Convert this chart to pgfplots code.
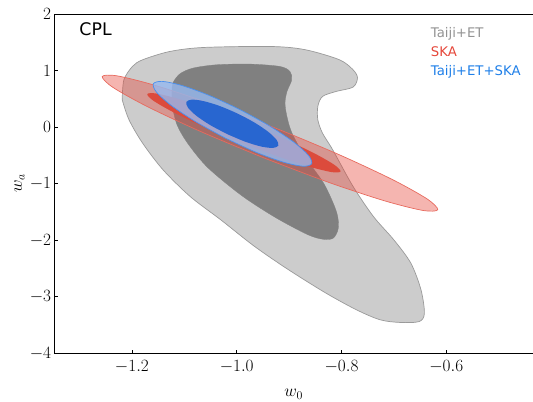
\documentclass[border=0pt]{standalone}
\usepackage{fontspec}
\usepackage{pgfplots}
\pgfplotsset{compat=1.18}
\newfontfamily\dejavu{DejaVu Sans}
\definecolor{gout}{HTML}{CCCCCC}
\definecolor{gedge}{HTML}{9A9A9A}
\definecolor{gin}{HTML}{808080}
\definecolor{skared}{HTML}{E5473A}
\definecolor{skaredge}{HTML}{E86A5E}
\definecolor{skain}{HTML}{DC4B3C}
\definecolor{bout}{HTML}{96B9F0}
\definecolor{bedge}{HTML}{4A90EE}
\definecolor{bin}{HTML}{2866D0}
\definecolor{legblue}{HTML}{1F7FE8}
\definecolor{leggray}{HTML}{939393}
\begin{document}
\begin{tikzpicture}
\begin{axis}[
  scale only axis, width=478.7bp, height=339.3bp,
  xmin=-1.3481, xmax=-0.4345, ymin=-4, ymax=2,
  axis x line=box, axis y line*=left,
  xtick pos=bottom,
  xtick={-1.2,-1.0,-0.8,-0.6}, ytick={-4,-3,-2,-1,0,1,2},
  tick align=inside, major tick length=3.5bp,
  tick style={black, line width=0.8bp},
  axis line style={black, line width=0.9bp},
  xticklabel style={font=\fontsize{18.5}{22}\selectfont, inner sep=0pt, yshift=-6.7bp,
    /pgf/number format/fixed, /pgf/number format/fixed zerofill, /pgf/number format/precision=1},
  yticklabel style={font=\fontsize{18.5}{22}\selectfont, inner sep=0pt, xshift=-3bp},
  xlabel={$w_0$}, ylabel={$w_a$},
  label style={font=\fontsize{18.5}{22}\selectfont, inner sep=0pt},
  xlabel style={at={(axis description cs:0.5,-0.1273)}, anchor=base},
  ylabel style={at={(axis description cs:-0.0675,0.5)}, anchor=base},
]
% Taiji+ET outer (2 sigma)
\addplot[fill=gout, draw=gedge, line width=0.7bp, smooth] coordinates {
(-1.2185,0.483) (-1.2153,0.836) (-1.199,1.072) (-1.1796,1.190) (-1.1277,1.337)
(-1.063,1.408) (-0.9334,1.425) (-0.8685,1.367) (-0.8038,1.190) (-0.7779,1.013)
(-0.7695,0.872) (-0.7779,0.707) (-0.8103,0.630) (-0.8363,0.541) (-0.8452,0.364)
(-0.8452,0.129) (-0.8363,-0.106) (-0.8168,-0.401) (-0.7779,-1.050) (-0.7391,-1.581)
(-0.7002,-1.993) (-0.6677,-2.405) (-0.6483,-2.877) (-0.6418,-3.289) (-0.6515,-3.438)
(-0.6872,-3.455) (-0.7261,-3.408) (-0.7714,-3.231) (-0.8298,-2.935) (-0.9010,-2.523)
(-0.9658,-2.111) (-1.0305,-1.639) (-1.0889,-1.227) (-1.1406,-0.755) (-1.1796,-0.283)
(-1.2055,0.129) (-1.2185,0.483)
} -- cycle;
% Taiji+ET inner (1 sigma)
\addplot[fill=gin, draw=gin, line width=0.3bp, smooth] coordinates {
(-1.1235,0.394) (-1.1235,0.624) (-1.1216,0.783) (-1.1082,0.943) (-1.0834,1.043)
(-1.0382,1.102) (-0.9746,1.114) (-0.9174,1.072) (-0.8983,0.983) (-0.8950,0.836)
(-0.9040,0.630) (-0.9078,0.424) (-0.9040,0.182) (-0.8945,-0.106) (-0.8685,-0.543)
(-0.8334,-1.003) (-0.8095,-1.498) (-0.8061,-1.786) (-0.8156,-1.963) (-0.8347,-1.984)
(-0.8639,-1.904) (-0.9250,-1.604) (-0.9899,-1.215) (-1.0548,-0.720) (-1.0929,-0.295)
(-1.1139,0.041) (-1.1235,0.394)
} -- cycle;
% SKA outer
\addplot[fill=skared, fill opacity=0.4, draw=skaredge, line width=0.7bp, smooth] coordinates {
(-0.94772,-0.54675) (-1.06937,-0.07576) (-1.17078,0.36353) (-1.23652,0.70431)
(-1.25657,0.89461) (-1.22790,0.90555) (-1.15484,0.73537) (-1.04855,0.41008)
(-0.92518,-0.02089) (-0.80353,-0.49188) (-0.70212,-0.93117) (-0.63638,-1.27195)
(-0.61633,-1.46225) (-0.64500,-1.47319) (-0.71806,-1.30301) (-0.82435,-0.97772)
(-0.94772,-0.54675)
} -- cycle;
% SKA inner
\addplot[fill=skain, draw=none, smooth] coordinates {
(-0.99336,-0.26496) (-1.06340,0.00952) (-1.12169,0.26718) (-1.15938,0.46885)
(-1.17069,0.58377) (-1.15394,0.59449) (-1.11165,0.49934) (-1.05028,0.31286)
(-0.97916,0.06336) (-0.90912,-0.21112) (-0.85083,-0.46878) (-0.81314,-0.67045)
(-0.80183,-0.78537) (-0.81858,-0.79609) (-0.86087,-0.70094) (-0.92224,-0.51446)
(-0.99336,-0.26496)
} -- cycle;
% Taiji+ET+SKA outer
\addplot[fill=bout, fill opacity=0.8, draw=bedge, line width=0.7bp, smooth] coordinates {
(-1.02179,-0.19419) (-1.07856,0.09573) (-1.12460,0.37994) (-1.15288,0.61522)
(-1.15911,0.76570) (-1.14234,0.80852) (-1.10512,0.73710) (-1.05312,0.56239)
(-0.99425,0.31091) (-0.93748,0.02099) (-0.89144,-0.26322) (-0.86316,-0.49850)
(-0.85693,-0.64898) (-0.87370,-0.69180) (-0.91092,-0.62038) (-0.96292,-0.44567)
(-1.02179,-0.19419)
} -- cycle;
% Taiji+ET+SKA inner
\addplot[fill=bin, draw=none, smooth] coordinates {
(-1.01781,-0.12534) (-1.05067,0.03637) (-1.07710,0.20142) (-1.09307,0.34471)
(-1.09615,0.44439) (-1.08587,0.48531) (-1.06380,0.46122) (-1.03329,0.37581)
(-0.99899,0.24206) (-0.96613,0.08035) (-0.93970,-0.08470) (-0.92373,-0.22799)
(-0.92065,-0.32767) (-0.93093,-0.36859) (-0.95300,-0.34450) (-0.98351,-0.25909)
(-1.01781,-0.12534)
} -- cycle;
\node[anchor=base west, inner sep=0pt, font=\dejavu\fontsize{17.4}{20}\selectfont] at (axis description cs:0.0522,0.9352) {CPL};
\node[anchor=base west, inner sep=0pt, text=leggray, font=\dejavu\fontsize{13.3}{16}\selectfont] at (axis description cs:0.7863,0.9313) {Taiji+ET};
\node[anchor=base west, inner sep=0pt, text=skared, font=\dejavu\fontsize{13.3}{16}\selectfont] at (axis description cs:0.7863,0.8742) {SKA};
\node[anchor=base west, inner sep=0pt, text=legblue, font=\dejavu\fontsize{13.3}{16}\selectfont] at (axis description cs:0.7863,0.8182) {Taiji+ET+SKA};
\end{axis}
\pgfresetboundingbox
\path[use as bounding box] ([xshift=-54.3bp,yshift=-48.7bp]current axis.south west) rectangle ([yshift=14bp]current axis.north east);
\end{tikzpicture}
\end{document}
